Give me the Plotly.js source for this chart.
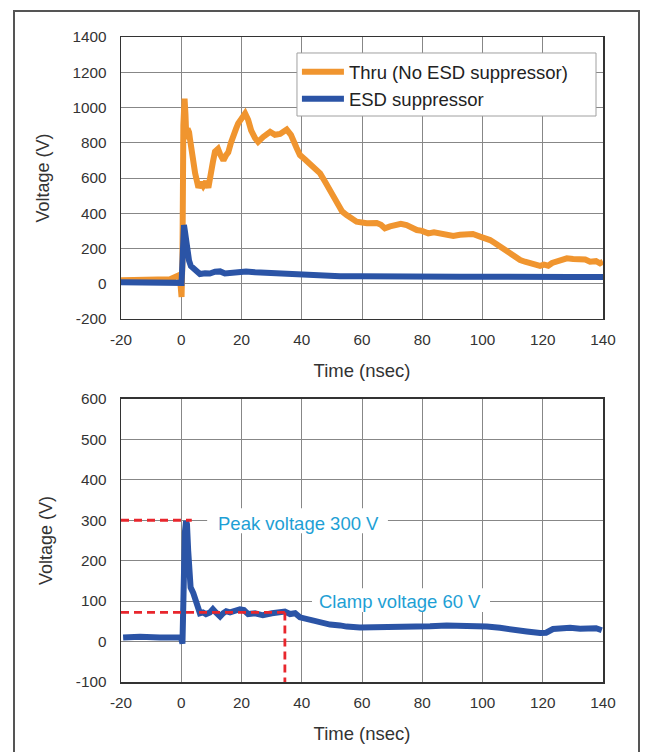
<!DOCTYPE html>
<html>
<head>
<meta charset="utf-8">
<script src="https://cdn.plot.ly/plotly-3.0.1.min.js"></script>
<style>
  html, body { margin: 0; padding: 0; background: #fff; }
  #wrap { position: relative; width: 651px; height: 752px; overflow: hidden; }
  #chart { position: absolute; left: 0; top: 0; width: 651px; height: 752px; }
  #frame { position: absolute; left: 13px; top: 10px; width: 627px; height: 760px;
           border: 2px solid #555; box-sizing: border-box; pointer-events: none; }
</style>
</head>
<body>
<div id="wrap"><div id="chart"></div><div id="frame"></div></div>
<script>
// ---- Data ----
const timeThru = [-20,-10.4,-3.7,-1.1,-0.4,0.1,0.4,0.7,1.1,1.4,1.7,2.1,2.6,2.9,3.6,4.6,5.7,6.6,7.3,8.2,9.0,9.9,10.5,11.2,12.2,12.9,14.0,14.9,15.6,16.5,17.3,18.2,18.9,20.2,21.2,22.2,23.2,24.5,25.5,27.2,28.5,29.5,31.1,32.8,35.0,36.4,38.3,39.4,41.1,42.7,44.4,46.1,47.7,49.4,50.7,52.1,53.4,54.9,56.3,58.2,61.6,64.9,66.3,67.6,69.3,71.5,72.9,74.8,76.3,78.2,79.9,82.0,83.9,85.9,87.9,90.3,92.5,94.8,96.8,99.2,100.8,102.5,104.2,105.8,107.5,109.2,110.8,112.5,114.1,115.8,117.4,119.1,120.4,121.8,123.1,124.6,126.1,128.0,130.1,132.4,134.1,135.7,137.7,139.0,140];
const voltThru = [20,22,25,45,30,-75,150,900,1050,960,820,880,860,820,720,627,545,575,555,580,545,610,690,750,765,735,700,730,745,800,850,880,910,940,966,930,870,826,805,833,850,862,845,850,875,845,770,730,705,683,650,626,580,531,480,446,410,390,370,352,343,345,335,314,325,333,340,333,318,305,300,286,292,286,280,271,278,276,282,267,258,248,230,210,192,173,155,135,125,116,108,101,108,102,118,125,135,144,140,135,138,125,128,116,125];

const timeEsdTop = [-20,-10.4,-3.7,0.1,0.35,0.6,0.9,1.2,1.6,2.1,2.6,3.2,4.2,5.2,6.2,7.9,9.5,11.2,12.9,14.5,16.2,18.2,19.8,21.5,24.5,27.8,31.1,36.1,41.1,46.1,52.7,59.3,66.0,72.6,79.2,85.9,92.5,99.2,105.8,112.5,119.1,122.4,129.1,135.7,140];
const voltEsdTop = [8,10,8,5,100,300,333,300,240,180,130,100,85,65,55,60,58,68,70,58,62,65,72,70,65,62,60,55,48,45,42,42,40,40,40,40,40,40,38,36,33,35,38,38,38];

const timeEsdZoom = [-19.3,-13.7,-7.1,-2.1,-0.1,0.4,0.7,1.2,1.6,1.9,2.3,3.1,4.0,4.9,5.7,6.2,7.2,8.2,9.5,10.5,11.5,12.9,13.9,14.9,16.2,18.2,19.5,20.8,22.2,24.5,27.1,30.1,32.8,34.4,36.1,37.8,39.4,41.4,43.7,46.1,49.4,52.7,54.9,59.3,61.6,68.2,76.9,82.6,88.1,94.8,101.4,105.8,108.0,112.5,114.7,119.1,121.1,123.4,125.7,129.1,132.4,135.7,137.7,139.6];
const voltEsdZoom = [10,12,10,12,10,-5,150,270,298,290,225,134,120,101,77,70,72,68,72,80,72,62,70,75,72,78,80,78,68,70,65,70,73,74,68,70,60,56,52,48,42,40,37,35,35,35,37,38,40,40,37,34,31,27,25,21,22,31,33,34,32,31,33,28];

const xTickVals = [-20,0,20,40,60,80,100,120,140];
const xTickText = ['-20','0','20','40','60','80','100','120','140'];
const yTickValsTop = [-200,0,200,400,600,800,1000,1200,1400];
const yTickTextTop = ['-200','0','200','400','600','800','1000','1200','1400'];
const yTickValsBottom = [-100,0,100,200,300,400,500,600];
const yTickTextBottom = ['-100','0','100','200','300','400','500','600'];

const seriesNames = ['Thru (No ESD suppressor)', 'ESD suppressor'];
const annotationTexts = ['Peak voltage 300 V', 'Clamp voltage 60 V'];
const peakLevel = 300;
const clampLevel = 72;
const clampTime = 34.4;
const peakLineEnd = 3.5;

// ---- Styling ----
const orange = '#f0952f';
const blue = '#2b54a6';
const red = '#e8262d';
const annColor = '#1e9fd5';
const gridColor = '#878787';
const lineColor = '#333333';
const fontFam = '"Liberation Sans", Arial, sans-serif';

const traces = [
  {x: timeThru, y: voltThru, xaxis: 'x', yaxis: 'y', type: 'scatter', mode: 'lines',
   name: seriesNames[0], line: {color: orange, width: 6}},
  {x: timeEsdTop, y: voltEsdTop, xaxis: 'x', yaxis: 'y', type: 'scatter', mode: 'lines',
   name: seriesNames[1], line: {color: blue, width: 6}},
  {x: timeEsdZoom, y: voltEsdZoom, xaxis: 'x2', yaxis: 'y2', type: 'scatter', mode: 'lines',
   name: seriesNames[1], showlegend: false, line: {color: blue, width: 6}}
];

function xAxis(anchor) {
  return {
    anchor: anchor, domain: [0, 1], range: [-20, 140],
    tickmode: 'array', tickvals: xTickVals, ticktext: xTickText,
    showgrid: true, gridcolor: gridColor, gridwidth: 1, zeroline: false,
    showline: true, linecolor: lineColor, linewidth: 1.5, mirror: true,
    ticks: '', ticklabelstandoff: 6,
    tickfont: {family: fontFam, size: 15.3, color: '#333'},
    title: {text: 'Time (nsec)', font: {family: fontFam, size: 18.5, color: '#333'}, standoff: 17}
  };
}
function yAxis(anchor, domain, range, vals, txt) {
  return {
    anchor: anchor, domain: domain, range: range,
    tickmode: 'array', tickvals: vals, ticktext: txt,
    showgrid: true, gridcolor: gridColor, gridwidth: 1, zeroline: false,
    showline: true, linecolor: lineColor, linewidth: 1.5, mirror: true,
    ticks: '', ticklabelstandoff: 10,
    tickfont: {family: fontFam, size: 15.3, color: '#333'},
    title: {text: 'Voltage (V)', font: {family: fontFam, size: 18, color: '#333'}, standoff: 18}
  };
}

const layout = {
  width: 651, height: 752,
  margin: {l: 121, r: 48, t: 37, b: 70},
  paper_bgcolor: '#fff', plot_bgcolor: '#fff',
  font: {family: fontFam, color: '#333'},
  showlegend: true,
  legend: {
    x: 0.365, y: 0.975, xanchor: 'left', yanchor: 'top',
    bgcolor: 'rgba(0,0,0,0)', borderwidth: 0,
    font: {family: fontFam, size: 18.5, color: '#222'},
    itemwidth: 42, tracegroupgap: 0
  },
  xaxis: xAxis('y'),
  yaxis: yAxis('x', [0.5628, 1], [-200, 1400], yTickValsTop, yTickTextTop),
  xaxis2: xAxis('y2'),
  yaxis2: yAxis('x2', [0, 0.4388], [-100, 600], yTickValsBottom, yTickTextBottom),
  shapes: [
    // legend box
    {type: 'rect', xref: 'paper', yref: 'paper', x0: 0.3651, x1: 0.9855, y0: 0.8775, y1: 0.9752,
     fillcolor: '#fff', line: {color: '#a0a0a0', width: 1}, layer: 'above'},
    // white backgrounds behind annotation texts
    {type: 'rect', xref: 'x2', yref: 'y2', x0: 8.6, x1: 68.6, y0: 268, y1: 330,
     fillcolor: '#fff', line: {width: 0}, layer: 'above'},
    {type: 'rect', xref: 'x2', yref: 'y2', x0: 43.4, x1: 102.5, y0: 73, y1: 132,
     fillcolor: '#fff', line: {width: 0}, layer: 'above'},
    {type: 'line', xref: 'x2', yref: 'y2', x0: -20, x1: peakLineEnd, y0: peakLevel, y1: peakLevel,
     line: {color: red, width: 2.8, dash: '8px,5px'}, layer: 'above'},
    {type: 'line', xref: 'x2', yref: 'y2', x0: -20, x1: clampTime, y0: clampLevel, y1: clampLevel,
     line: {color: red, width: 2.8, dash: '8px,5px'}, layer: 'above'},
    {type: 'line', xref: 'x2', yref: 'y2', x0: clampTime, x1: clampTime, y0: clampLevel, y1: -100,
     line: {color: red, width: 2.8, dash: '8px,5px'}, layer: 'above'}
  ],
  annotations: [
    {xref: 'x2', yref: 'y2', x: 11.6, y: 292, text: annotationTexts[0], showarrow: false,
     xanchor: 'left', yanchor: 'middle', font: {family: fontFam, size: 18.5, color: annColor}},
    {xref: 'x2', yref: 'y2', x: 45.0, y: 100, text: annotationTexts[1], showarrow: false,
     xanchor: 'left', yanchor: 'middle', font: {family: fontFam, size: 18.5, color: annColor}}
  ]
};

Plotly.newPlot('chart', traces, layout, {displayModeBar: false, staticPlot: true});
</script>
</body>
</html>
